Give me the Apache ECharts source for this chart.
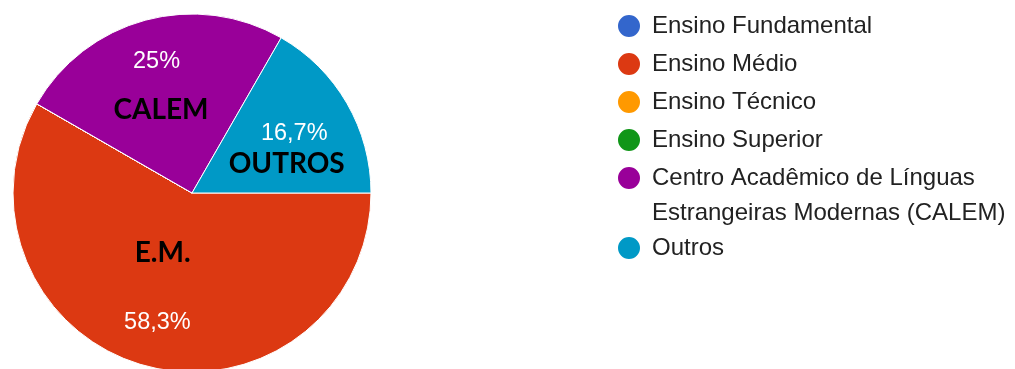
<!DOCTYPE html>
<html>
<head>
<meta charset="utf-8">
<script src="https://cdn.jsdelivr.net/npm/echarts@6/dist/echarts.min.js"></script>
<style>
html, body { margin: 0; padding: 0; background: #fff; }
#main { width: 1015px; height: 369px; }
</style>
</head>
<body>
<div id="main"></div>
<script>
// data
var categories = ['Ensino Fundamental', 'Ensino Médio', 'Ensino Técnico', 'Ensino Superior',
    'Centro Acadêmico de Línguas Estrangeiras Modernas (CALEM)', 'Outros'];
var percentages = [0, 58.3, 0, 0, 25, 16.7];
var annotations = ['', 'E.M.', '', '', 'CALEM', 'OUTROS'];

var sliceColors = ['#3366cc', '#dc3912', '#ff9900', '#109618', '#990099', '#0099c6'];

// layout of the pie and of the text placed on it
var cx = 192, cy = 193, R = 179;
var labelRadius = [0.76, 0.75, 0.76, 0.76, 0.76, 0.66];
var notePlace = [null, [67, -116], null, null, [88.6, 110.5], [99, 17]]; // [radius, angle deg]

var total = percentages.reduce(function (a, b) { return a + b; }, 0);

// middle of slice i, degrees clockwise from 3 o'clock (startAngle 0)
function midAngle(i) {
    var before = 0;
    for (var j = 0; j < i; j++) before += percentages[j];
    return (before + percentages[i] / 2) / total * 360;
}

function fmtPct(v) {
    return String(v).replace('.', ',') + '%';
}

var legendText = {
    fontFamily: 'Liberation Sans, Arial, sans-serif',
    fontSize: 24,
    color: '#222',
    lineHeight: 35,
    padding: [0, 0, 0, 6]
};

function legendBlock(top, names, extra) {
    var l = {
        orient: 'vertical',
        left: 616,
        top: top,
        padding: 0,
        itemGap: 3,
        itemWidth: 24,
        itemHeight: 24,
        icon: 'circle',
        selectedMode: false,
        textStyle: legendText,
        formatter: function (name) {
            return name.replace(' Estrangeiras', '\nEstrangeiras');
        },
        data: names
    };
    return Object.assign(l, extra || {});
}

var notes = [];
annotations.forEach(function (t, i) {
    if (!t) return;
    var p = notePlace[i];
    var a = p[1] * Math.PI / 180;
    notes.push({
        type: 'text',
        z: 100,
        x: cx + p[0] * Math.cos(a),
        y: cy - p[0] * Math.sin(a),
        style: {
            text: t,
            fill: '#000',
            font: 'bold 28px Lato',
            align: 'center',
            verticalAlign: 'middle'
        }
    });
});

var chart = echarts.init(document.getElementById('main'));
chart.setOption({
    animation: false,
    legend: [
        legendBlock(8.5, categories.slice(0, 4)),
        // two-line entry: the dot sits beside the first line
        legendBlock(160.5, [categories[4]], {
            itemHeight: 59,
            icon: 'path://M0,12A12,12 0 1,0 24,12A12,12 0 1,0 0,12ZM12,59L12,59Z'
        }),
        legendBlock(230.5, [categories[5]])
    ],
    graphic: notes,
    series: [
        {
            name: 'Escolaridade',
            type: 'pie',
            center: [cx, cy],
            radius: R,
            startAngle: 0,
            clockwise: true,
            silent: true,
            itemStyle: {
                borderColor: '#fff',
                borderWidth: 1
            },
            label: {
                show: true,
                position: 'inside',
                color: '#fff',
                fontFamily: 'Liberation Sans, Arial, sans-serif',
                fontSize: 23.5,
                formatter: function (p) {
                    return p.value ? fmtPct(p.value) : '';
                }
            },
            labelLine: { show: false },
            labelLayout: function (params) {
                var i = params.dataIndex;
                var a = midAngle(i) * Math.PI / 180;
                var r = labelRadius[i] * R;
                return {
                    x: cx + r * Math.cos(a),
                    y: cy + r * Math.sin(a),
                    align: 'center',
                    verticalAlign: 'middle'
                };
            },
            data: categories.map(function (n, i) {
                return { name: n, value: percentages[i], itemStyle: { color: sliceColors[i] } };
            })
        }
    ]
});
</script>
</body>
</html>
